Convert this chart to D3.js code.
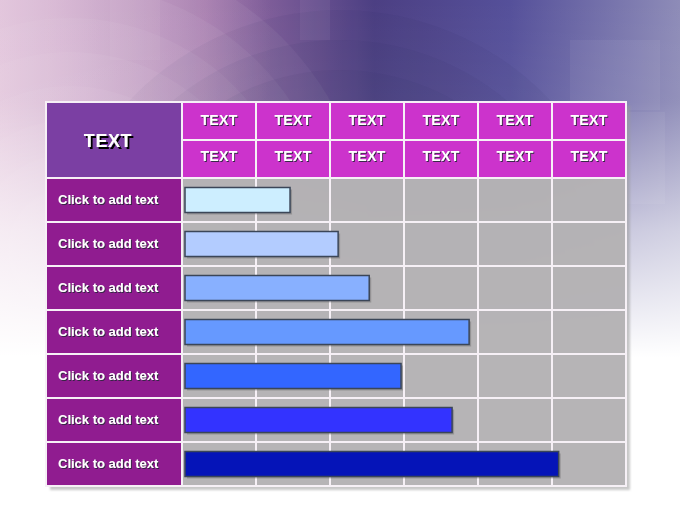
<!DOCTYPE html>
<html>
<head>
<meta charset="utf-8">
<script src="https://cdn.jsdelivr.net/npm/d3@7"></script>
<style>
  html, body { margin: 0; padding: 0; background: #fff; }
  svg { display: block; }
</style>
</head>
<body>
<script>
// data
const cornerLabel = 'TEXT';
const headerTop = ['TEXT', 'TEXT', 'TEXT', 'TEXT', 'TEXT', 'TEXT'];
const headerBottom = ['TEXT', 'TEXT', 'TEXT', 'TEXT', 'TEXT', 'TEXT'];
const rowLabels = ['Click to add text', 'Click to add text', 'Click to add text', 'Click to add text',
                   'Click to add text', 'Click to add text', 'Click to add text'];
const values = [1.46, 2.11, 2.53, 3.88, 2.96, 3.65, 5.09]; // in column units (0-6)
const barColors = ['#cdeeff', '#b3ccff', '#88b0ff', '#6699ff', '#3366ff', '#3333ff', '#0514b8'];

const WIDTH = 680, HEIGHT = 510;

const tLeft = 46, labelRight = 182, tRight = 626;
const tTop = 102, headMid = 140, bodyTop = 178, tBottom = 486;

const svg = d3.select('body').append('svg')
    .attr('width', WIDTH)
    .attr('height', HEIGHT);

const defs = svg.append('defs');

// background gradients
const gH = defs.append('linearGradient').attr('id', 'bgH').attr('x1', 0).attr('x2', 1).attr('y1', 0).attr('y2', 0);
gH.append('stop').attr('offset', '0%').attr('stop-color', '#cca4c8');
gH.append('stop').attr('offset', '30%').attr('stop-color', '#9c6fa6');
gH.append('stop').attr('offset', '55%').attr('stop-color', '#4c3f83');
gH.append('stop').attr('offset', '75%').attr('stop-color', '#55509a');
gH.append('stop').attr('offset', '100%').attr('stop-color', '#8e8cb8');

const gV = defs.append('linearGradient').attr('id', 'bgV').attr('x1', 0).attr('x2', 0).attr('y1', 0).attr('y2', 1);
gV.append('stop').attr('offset', '0%').attr('stop-color', '#fff').attr('stop-opacity', 0);
gV.append('stop').attr('offset', '20%').attr('stop-color', '#fff').attr('stop-opacity', 0.05);
gV.append('stop').attr('offset', '45%').attr('stop-color', '#fff').attr('stop-opacity', 0.6);
gV.append('stop').attr('offset', '70%').attr('stop-color', '#fff').attr('stop-opacity', 1);
gV.append('stop').attr('offset', '100%').attr('stop-color', '#fff').attr('stop-opacity', 1);

const gL = defs.append('linearGradient').attr('id', 'bgL').attr('x1', 0).attr('x2', 1).attr('y1', 0).attr('y2', 0);
gL.append('stop').attr('offset', '0%').attr('stop-color', '#f2dcea').attr('stop-opacity', 0.55);
gL.append('stop').attr('offset', '40%').attr('stop-color', '#f2dcea').attr('stop-opacity', 0);

const shadowText = defs.append('filter').attr('id', 'ts').attr('x', '-20%').attr('y', '-30%').attr('width', '150%').attr('height', '180%');
shadowText.append('feDropShadow').attr('dx', 1).attr('dy', 1).attr('stdDeviation', 0.3)
    .attr('flood-color', '#2a2a3a').attr('flood-opacity', 0.9);

const shadowBig = defs.append('filter').attr('id', 'tsBig').attr('x', '-20%').attr('y', '-30%').attr('width', '150%').attr('height', '180%');
shadowBig.append('feDropShadow').attr('dx', 2).attr('dy', 2).attr('stdDeviation', 0.2)
    .attr('flood-color', '#000').attr('flood-opacity', 1);

const blur = defs.append('filter').attr('id', 'soft');
blur.append('feGaussianBlur').attr('stdDeviation', 1);

// background
const bg = svg.append('g');
bg.append('rect').attr('width', WIDTH).attr('height', HEIGHT).attr('fill', 'url(#bgH)');

// concentric rings, upper left
const rings = d3.range(8);
bg.selectAll('circle.ringA').data(rings).join('circle')
    .attr('class', 'ringA')
    .attr('cx', 70).attr('cy', 250)
    .attr('r', d => 300 - d * 34)
    .attr('fill', '#fff')
    .attr('fill-opacity', 0.05);

// big dark disc in the middle
bg.selectAll('circle.ringB').data(d3.range(4)).join('circle')
    .attr('class', 'ringB')
    .attr('cx', 340).attr('cy', 300)
    .attr('r', d => 290 - d * 30)
    .attr('fill', '#2a1f55')
    .attr('fill-opacity', 0.06);

// soft translucent squares
const squares = [[110, 0, 50, 60], [300, 0, 30, 40], [625, 112, 40, 92], [570, 40, 90, 70]];
bg.selectAll('rect.sq').data(squares).join('rect')
    .attr('class', 'sq')
    .attr('x', d => d[0]).attr('y', d => d[1])
    .attr('width', d => d[2]).attr('height', d => d[3])
    .attr('fill', '#fff').attr('fill-opacity', 0.05);

bg.append('rect').attr('width', WIDTH).attr('height', HEIGHT).attr('fill', 'url(#bgL)');
bg.append('rect').attr('width', WIDTH).attr('height', HEIGHT).attr('fill', 'url(#bgV)');

// scales
const x = d3.scaleLinear().domain([0, 6]).range([labelRight, tRight]);
const col = d3.scaleBand().domain(d3.range(headerTop.length)).range([labelRight, tRight]);
const row = d3.scaleBand().domain(d3.range(rowLabels.length)).range([bodyTop, tBottom]);

const table = svg.append('g');

// table shadow
table.append('rect')
    .attr('x', tLeft + 4).attr('y', tTop + 4)
    .attr('width', tRight - tLeft).attr('height', tBottom - tTop)
    .attr('fill', '#9a9a9a').attr('fill-opacity', 0.55)
    .attr('filter', 'url(#soft)');

// cells
table.append('rect')
    .attr('x', tLeft).attr('y', tTop)
    .attr('width', labelRight - tLeft).attr('height', bodyTop - tTop)
    .attr('fill', '#7b3fa3');

table.append('rect')
    .attr('x', labelRight).attr('y', tTop)
    .attr('width', tRight - labelRight).attr('height', bodyTop - tTop)
    .attr('fill', '#cc33cc');

table.append('rect')
    .attr('x', tLeft).attr('y', bodyTop)
    .attr('width', labelRight - tLeft).attr('height', tBottom - bodyTop)
    .attr('fill', '#901c90');

table.append('rect')
    .attr('x', labelRight).attr('y', bodyTop)
    .attr('width', tRight - labelRight).attr('height', tBottom - bodyTop)
    .attr('fill', '#b5b3b5').attr('fill-opacity', 0.94);

// grid lines
const grid = table.append('g')
    .attr('stroke', '#f6f0f6')
    .attr('stroke-width', 2);

grid.selectAll('line.v').data(d3.range(1, headerTop.length)).join('line')
    .attr('class', 'v')
    .attr('x1', d => col(d)).attr('x2', d => col(d))
    .attr('y1', tTop).attr('y2', tBottom);

grid.append('line')
    .attr('x1', labelRight).attr('x2', labelRight)
    .attr('y1', tTop).attr('y2', tBottom);

grid.append('line')
    .attr('x1', labelRight).attr('x2', tRight)
    .attr('y1', headMid).attr('y2', headMid);

grid.selectAll('line.h').data(d3.range(rowLabels.length)).join('line')
    .attr('class', 'h')
    .attr('x1', tLeft).attr('x2', tRight)
    .attr('y1', d => row(d)).attr('y2', d => row(d));

grid.append('rect')
    .attr('x', tLeft).attr('y', tTop)
    .attr('width', tRight - tLeft).attr('height', tBottom - tTop)
    .attr('fill', 'none');

// header texts
table.append('text')
    .attr('x', 108).attr('y', (tTop + bodyTop) / 2 + 1)
    .attr('text-anchor', 'middle').attr('dominant-baseline', 'central')
    .attr('font-family', '"Liberation Sans", Arial, sans-serif')
    .attr('font-weight', 'bold').attr('font-size', 18)
    .attr('letter-spacing', 0.6)
    .attr('fill', '#fff')
    .attr('filter', 'url(#tsBig)')
    .text(cornerLabel);

const headerRows = [[headerTop, (tTop + headMid) / 2 - 1], [headerBottom, (headMid + bodyTop) / 2 - 3]];
headerRows.forEach(([labels, cy]) => {
    table.append('g').selectAll('text').data(labels).join('text')
        .attr('x', (d, i) => col(i) + col.bandwidth() / 2)
        .attr('y', cy)
        .attr('text-anchor', 'middle').attr('dominant-baseline', 'central')
        .attr('font-family', '"Liberation Sans", Arial, sans-serif')
        .attr('font-weight', 'bold').attr('font-size', 14)
        .attr('letter-spacing', 0.3)
        .attr('fill', '#fff')
        .attr('filter', 'url(#ts)')
        .text(d => d);
});

// row labels
table.append('g').selectAll('text').data(rowLabels).join('text')
    .attr('x', 58)
    .attr('y', (d, i) => row(i) + row.bandwidth() / 2 - 1)
    .attr('dominant-baseline', 'central')
    .attr('font-family', '"Liberation Sans", Arial, sans-serif')
    .attr('font-weight', 'bold').attr('font-size', 13)
    .attr('fill', '#fff')
    .attr('filter', 'url(#ts)')
    .text(d => d);

// bars
const barH = 25;
const bars = svg.append('g');

bars.selectAll('rect.shadow').data(values).join('rect')
    .attr('class', 'shadow')
    .attr('x', x(0) + 5)
    .attr('y', (d, i) => row(i) + (row.bandwidth() - barH) / 2 + 2)
    .attr('width', d => x(d) - x(0) - 3)
    .attr('height', barH)
    .attr('fill', '#555').attr('fill-opacity', 0.35);

bars.selectAll('rect.bar').data(values).join('rect')
    .attr('class', 'bar')
    .attr('x', x(0) + 3)
    .attr('y', (d, i) => row(i) + (row.bandwidth() - barH) / 2)
    .attr('width', d => x(d) - x(0) - 3)
    .attr('height', barH)
    .attr('fill', (d, i) => barColors[i])
    .attr('stroke', '#3b4658')
    .attr('stroke-width', 1.5);
</script>
</body>
</html>
